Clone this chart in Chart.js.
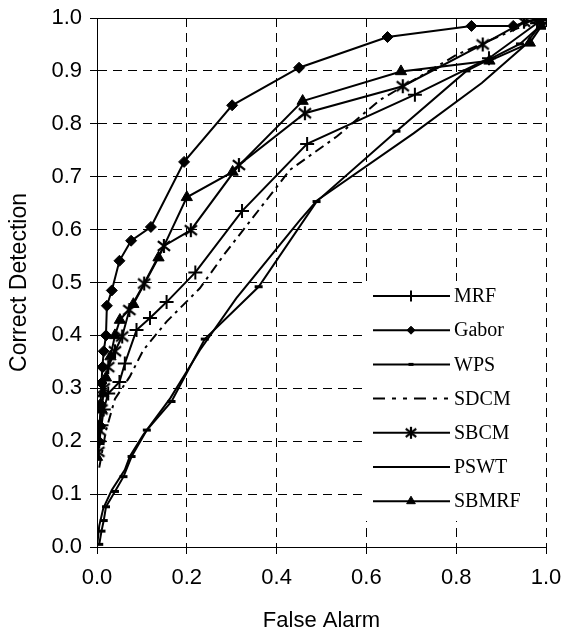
<!DOCTYPE html>
<html>
<head>
<meta charset="utf-8">
<script src="https://cdn.jsdelivr.net/npm/chart.js@4.4.1/dist/chart.umd.min.js"></script>
<style>
  html, body { margin: 0; padding: 0; background: #fff; }
</style>
</head>
<body>
<canvas id="rocChart" width="566" height="637"></canvas>
<script>
// ROC curves (false alarm -> correct detection)
const seriesNames = ['MRF', 'Gabor', 'WPS', 'SDCM', 'SBCM', 'PSWT', 'SBMRF'];
const xTicks = [0.0, 0.2, 0.4, 0.6, 0.8, 1.0];
const yTicks = [0.0, 0.1, 0.2, 0.3, 0.4, 0.5, 0.6, 0.7, 0.8, 0.9, 1.0];

const mrfX = [0.005, 0.01, 0.015, 0.025, 0.05, 0.062, 0.088, 0.118, 0.155, 0.219, 0.323, 0.468, 0.708, 0.873, 0.98];
const mrfY = [0.20, 0.23, 0.26, 0.29, 0.312, 0.347, 0.41, 0.433, 0.463, 0.519, 0.635, 0.762, 0.855, 0.924, 0.99];

const gaborX = [0.004, 0.006, 0.008, 0.01, 0.012, 0.015, 0.02, 0.022, 0.033, 0.05, 0.076, 0.12, 0.194, 0.301, 0.45, 0.647, 0.834, 0.927, 0.985];
const gaborY = [0.20, 0.23, 0.27, 0.31, 0.34, 0.37, 0.40, 0.456, 0.485, 0.541, 0.579, 0.605, 0.728, 0.835, 0.906, 0.964, 0.985, 0.985, 0.998];

const wpsX = [0.005, 0.01, 0.015, 0.02, 0.04, 0.059, 0.077, 0.111, 0.166, 0.24, 0.36, 0.489, 0.667, 0.823, 0.942, 0.994];
const wpsY = [0.005, 0.03, 0.05, 0.076, 0.105, 0.133, 0.171, 0.221, 0.275, 0.393, 0.492, 0.653, 0.786, 0.90, 0.951, 0.99];

const sdcmX = [0.005, 0.02, 0.04, 0.073, 0.103, 0.155, 0.229, 0.285, 0.43, 0.534, 0.63, 0.80, 0.935, 1.0];
const sdcmY = [0.15, 0.22, 0.28, 0.322, 0.372, 0.426, 0.489, 0.555, 0.713, 0.776, 0.845, 0.93, 0.98, 1.0];

const sbcmX = [0.003, 0.006, 0.01, 0.015, 0.025, 0.04, 0.056, 0.072, 0.105, 0.149, 0.209, 0.316, 0.463, 0.681, 0.859, 0.951, 0.993];
const sbcmY = [0.18, 0.22, 0.26, 0.30, 0.34, 0.37, 0.398, 0.448, 0.498, 0.569, 0.599, 0.722, 0.82, 0.871, 0.95, 0.993, 1.0];

const pswtX = [0.0, 0.005, 0.014, 0.033, 0.062, 0.073, 0.103, 0.163, 0.229, 0.31, 0.452, 0.49, 0.705, 0.857, 0.95, 1.0];
const pswtY = [0.0, 0.04, 0.073, 0.108, 0.146, 0.171, 0.212, 0.281, 0.372, 0.47, 0.618, 0.655, 0.782, 0.877, 0.946, 1.0];

const sbmrfX = [0.0, 0.003, 0.006, 0.01, 0.014, 0.02, 0.03, 0.04, 0.051, 0.081, 0.137, 0.20, 0.302, 0.458, 0.677, 0.874, 0.964, 0.99];
const sbmrfY = [0.17, 0.20, 0.23, 0.26, 0.29, 0.32, 0.36, 0.40, 0.429, 0.459, 0.547, 0.661, 0.709, 0.843, 0.899, 0.919, 0.953, 0.985];

function pts(xs, ys) { return xs.map((x, i) => ({ x: x, y: ys[i] })); }

// six-armed asterisk marker
function asterisk(size, lw) {
  const c = document.createElement('canvas');
  c.width = size; c.height = size;
  const g = c.getContext('2d');
  const h = size / 2, r = size / 2 - 1;
  g.strokeStyle = '#000'; g.lineWidth = lw; g.lineCap = 'butt';
  g.beginPath();
  g.moveTo(h, h - r); g.lineTo(h, h + r);
  g.moveTo(h - r * 0.87, h - r * 0.7); g.lineTo(h + r * 0.87, h + r * 0.7);
  g.moveTo(h - r * 0.87, h + r * 0.7); g.lineTo(h + r * 0.87, h - r * 0.7);
  g.stroke();
  return c;
}
const starBig = asterisk(16, 2.2);
const starSmall = asterisk(14, 2.2);

const base = { borderColor: '#000', backgroundColor: '#000', borderWidth: 2, showLine: true, fill: false, tension: 0,
  pointBorderColor: '#000', pointBackgroundColor: '#000' };

const datasets = [
  Object.assign({}, base, { label: seriesNames[0], data: pts(mrfX, mrfY), pointStyle: 'cross', pointRadius: 7, pointBorderWidth: 2 }),
  Object.assign({}, base, { label: seriesNames[1], data: pts(gaborX, gaborY), pointStyle: 'rectRot', pointRadius: 5.5, pointBorderWidth: 1 }),
  Object.assign({}, base, { label: seriesNames[2], data: pts(wpsX, wpsY), pointStyle: 'line', pointRadius: 4, pointBorderWidth: 3 }),
  Object.assign({}, base, { label: seriesNames[3], data: pts(sdcmX, sdcmY), pointRadius: 0, borderDash: [10, 5, 3, 5] }),
  Object.assign({}, base, { label: seriesNames[4], data: pts(sbcmX, sbcmY), pointStyle: starBig, pointRadius: 6, legendStyle: starSmall }),
  Object.assign({}, base, { label: seriesNames[5], data: pts(pswtX, pswtY), pointRadius: 0 }),
  Object.assign({}, base, { label: seriesNames[6], data: pts(sbmrfX, sbmrfY), pointStyle: 'triangle', pointRadius: 6.5, pointBorderWidth: 1 })
];

// legend box drawn inside the plot, plus solid top frame
const innerLegend = {
  id: 'innerLegend',
  afterDatasetsDraw(chart) {
    const ctx = chart.ctx, a = chart.chartArea;
    ctx.save();
    ctx.strokeStyle = '#000'; ctx.lineWidth = 1;
    ctx.beginPath(); ctx.moveTo(a.left, a.top + 0.5); ctx.lineTo(a.right, a.top + 0.5); ctx.stroke();

    ctx.fillStyle = '#fff';
    ctx.fillRect(365, 281, 179, 240);
    ctx.font = '20px "Liberation Serif", "Times New Roman", serif';
    ctx.textBaseline = 'middle';
    chart.data.datasets.forEach((ds, i) => {
      const y = 296 + i * 34.2;
      ctx.strokeStyle = '#000'; ctx.fillStyle = '#000'; ctx.lineWidth = 2;
      ctx.setLineDash(ds.borderDash ? [12, 7, 4, 7, 4, 7] : []);
      ctx.beginPath(); ctx.moveTo(373, y); ctx.lineTo(450, y); ctx.stroke();
      ctx.setLineDash([]);
      if (ds.pointRadius > 0) {
        ctx.lineWidth = ds.pointBorderWidth || 1;
        Chart.helpers.drawPoint(ctx, {
          pointStyle: ds.legendStyle || ds.pointStyle,
          radius: ds.pointRadius - 1.5,
          rotation: 0,
          borderWidth: ds.pointBorderWidth || 1
        }, 411, y);
      }
      ctx.fillStyle = '#000';
      ctx.fillText(ds.label, 454, y + 1);
    });
    ctx.restore();
  }
};

const tickFont = { family: '"Liberation Sans", Arial, sans-serif', size: 22 };
const yTitleFont = { family: '"Liberation Sans", Arial, sans-serif', size: 23 };

new Chart(document.getElementById('rocChart').getContext('2d'), {
  type: 'scatter',
  data: { datasets: datasets },
  options: {
    responsive: false,
    animation: false,
    layout: { padding: { left: 0, top: 18, right: 20, bottom: 0 } },
    plugins: { legend: { display: false }, tooltip: { enabled: false } },
    scales: {
      x: {
        type: 'linear', min: 0, max: 1,
        afterBuildTicks: (s) => { s.ticks = xTicks.map(v => ({ value: v })); },
        afterFit: (s) => { s.height = 90; s.paddingLeft = 0; s.paddingRight = 0; },
        ticks: { color: '#000', font: tickFont, padding: 11, callback: (v) => v.toFixed(1), maxRotation: 0 },
        grid: { color: '#000', lineWidth: 1, tickLength: 7, tickColor: '#000', drawOnChartArea: true },
        border: { color: '#000', width: 1, dash: [9, 6] },
        title: { display: true, text: 'False Alarm', color: '#000', font: tickFont, padding: { top: 0, bottom: 3 } }
      },
      y: {
        type: 'linear', min: 0, max: 1,
        afterBuildTicks: (s) => { s.ticks = yTicks.map(v => ({ value: v })); },
        afterFit: (s) => { s.width = 97; s.paddingTop = 0; s.paddingBottom = 0; },
        ticks: { color: '#000', font: tickFont, padding: 8, callback: (v) => v.toFixed(1) },
        grid: { color: '#000', lineWidth: 1, tickLength: 7, tickColor: '#000' },
        border: { color: '#000', width: 1, dash: [9, 6] },
        title: { display: true, text: 'Correct Detection', color: '#000', font: yTitleFont, padding: { top: 6, bottom: 0 } }
      }
    }
  },
  plugins: [innerLegend]
});
</script>
</body>
</html>
